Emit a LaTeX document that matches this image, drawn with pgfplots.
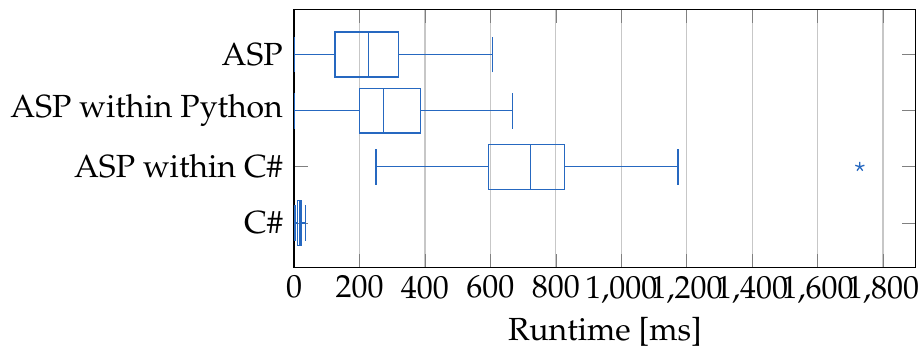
\documentclass[border=0pt]{standalone}
\usepackage[T1]{fontenc}
\usepackage{mathpazo}
\usepackage{pgfplots}
\pgfplotsset{compat=1.18}
\usepgfplotslibrary{statistics}
\definecolor{boxblue}{RGB}{38,104,192}
\begin{document}
\begin{tikzpicture}
\begin{axis}[
  scale only axis,
  width=194.3pt, height=80.7pt,
  xmin=0, xmax=1900,
  ymin=0.2, ymax=4.8,
  xtick={0,200,...,1800},
  ytick={1,2,3,4},
  yticklabels={C\#, ASP within C\#, ASP within Python, ASP},
  xmajorgrids,
  grid style={black!22},
  xlabel={Runtime [ms]},
  xticklabel style={yshift=1pt},
  xlabel style={yshift=2.5pt},
  boxplot/draw direction=x,
]
\addplot[boxblue, mark=none, boxplot prepared={draw position=4,
  lower whisker=0, lower quartile=125, median=227, upper quartile=319, upper whisker=606}]
  coordinates {};
\addplot[boxblue, mark=none, boxplot prepared={draw position=3,
  lower whisker=0, lower quartile=200, median=273, upper quartile=387, upper whisker=668}]
  coordinates {};
\addplot[boxblue, mark=none, boxplot prepared={draw position=2,
  lower whisker=250, lower quartile=595, median=722, upper quartile=826, upper whisker=1173}]
  coordinates {};
\addplot[boxblue, mark=none, boxplot prepared={draw position=1,
  lower whisker=3, lower quartile=11, median=16, upper quartile=21, upper whisker=34}]
  coordinates {};
\addplot[boxblue, only marks, mark=star, mark size=1.5pt] coordinates {(1729,2)};
\end{axis}
\pgfresetboundingbox
\useasboundingbox ([xshift=-91.9pt,yshift=-24.7pt]current axis.south west) rectangle ([xshift=1pt,yshift=3pt]current axis.north east);
\end{tikzpicture}
\end{document}
